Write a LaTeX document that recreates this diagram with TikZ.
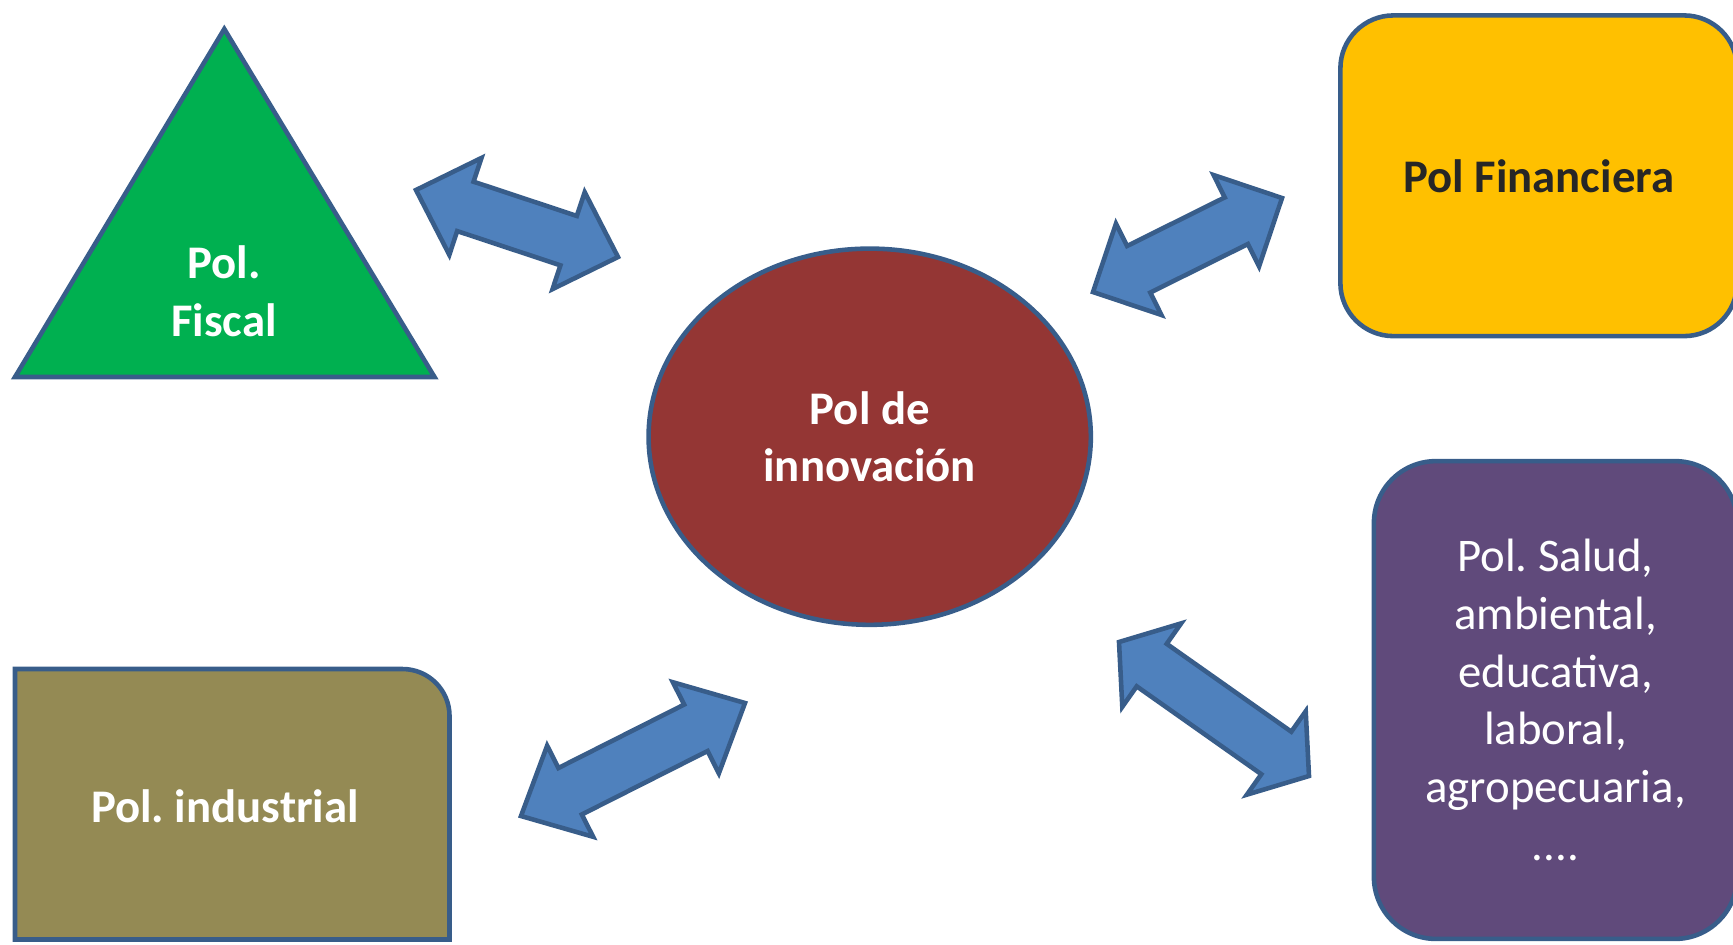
\documentclass[tikz,border=0pt]{standalone}
\usepackage{fontspec}
\setmainfont{Carlito}
\usetikzlibrary{calc,shapes.geometric}
\frenchspacing
\definecolor{colLine}{HTML}{385D8A}
\definecolor{colArrow}{HTML}{4F81BD}
\definecolor{colFiscal}{HTML}{00B050}
\definecolor{colInnov}{HTML}{943634}
\definecolor{colFin}{HTML}{FFC000}
\definecolor{colFinText}{HTML}{262626}
\definecolor{colInd}{HTML}{948A54}
\definecolor{colOtras}{HTML}{604A7B}
\tikzset{
  polline/.style={draw=colLine, line width=1.3pt},
  poltext/.style={align=center, inner sep=0pt, text=white,
    font=\bfseries\fontsize{13.3}{16.4}\selectfont},
  polbox/.style={polline, poltext},
  blockarrow/.style={fill=colArrow, draw=colLine, line width=1.3pt}
}
\newcommand{\dblarrow}[3]{%
  \draw[blockarrow] (#1)
    -- ($(#1)!#3!(#2)!0.51cm!90:(#2)$)
    -- ($(#1)!#3!(#2)!0.26cm!90:(#2)$)
    -- ($(#2)!#3!(#1)!0.26cm!-90:(#1)$)
    -- ($(#2)!#3!(#1)!0.51cm!-90:(#1)$)
    -- (#2)
    -- ($(#2)!#3!(#1)!0.51cm!90:(#1)$)
    -- ($(#2)!#3!(#1)!0.26cm!90:(#1)$)
    -- ($(#1)!#3!(#2)!0.26cm!-90:(#2)$)
    -- ($(#1)!#3!(#2)!0.51cm!-90:(#2)$)
    -- cycle;}

\begin{document}
\begin{tikzpicture}[x=0.01cm, y=-0.01cm]
  \useasboundingbox (0,0) rectangle (1733,944);

  \draw[polline, fill=colFiscal] (224.3,29) -- (434.5,377) -- (15,377) -- cycle;
  \node[poltext] (fiscal) at (224,291) {Pol.\\Fiscal};

  \node[polbox, ellipse, fill=colInnov, minimum width=4.42cm,
        minimum height=3.76cm] (innov) at (869.7,436.7) {Pol de\\innovación};

  \node[polbox, rectangle, rounded corners=0.53cm, fill=colFin, text=colFinText,
        minimum width=3.965cm, minimum height=3.205cm] (fin) at (1538.75,175.75) {Pol Financiera};

  \node[polbox, rectangle, rounded corners=0.62cm, fill=colOtras,
        font=\fontsize{13.3}{16.4}\selectfont,
        minimum width=3.63cm, minimum height=4.775cm] (otras) at (1555.5,700)
        {Pol. Salud,\\ambiental,\\educativa,\\laboral,\\agropecuaria,\\....};

  \draw[polline, fill=colInd] (15,939.5) -- (15,669) -- (402.5,669)
        arc (90:0:0.47cm) -- (449.5,939.5) -- cycle;
  \node[poltext] (industrial) at (225,806) {Pol. industrial};

  \coordinate (a1) at (416,190);  \coordinate (b1) at (618,257);
  \coordinate (a2) at (1093,292); \coordinate (b2) at (1282,198);
  \coordinate (a3) at (521,816);  \coordinate (b3) at (745,703);
  \coordinate (a4) at (1119,642); \coordinate (b4) at (1309,776);

  \dblarrow{a1}{b1}{0.52cm}
  \dblarrow{a2}{b2}{0.51cm}
  \dblarrow{a3}{b3}{0.55cm}
  \dblarrow{a4}{b4}{0.40cm}
\end{tikzpicture}
\end{document}
